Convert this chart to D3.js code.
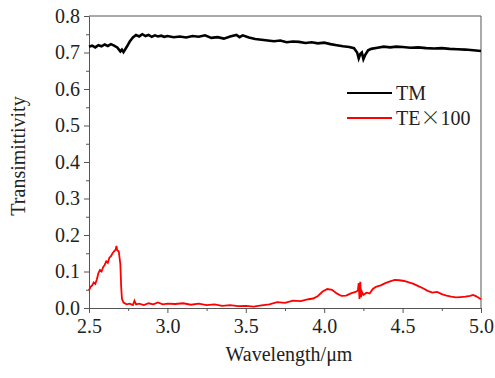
<!DOCTYPE html>
<html>
<head>
<meta charset="utf-8">
<script src="https://cdn.jsdelivr.net/npm/d3@7"></script>
<style>
  body { margin: 0; background: #fff; }
  .axis path, .axis line { stroke: #555; }
</style>
</head>
<body>
<div id="plot"></div>
<script>
// TM curve
var tmX = [2.50,2.52,2.54,2.56,2.58,2.60,2.62,2.64,2.66,2.68,2.70,2.71,2.72,2.74,2.76,2.78,2.80,2.82,2.84,2.86,2.88,2.90,2.92,2.94,2.96,2.98,3.00,3.04,3.08,3.12,3.16,3.20,3.24,3.28,3.32,3.36,3.40,3.44,3.46,3.48,3.52,3.56,3.60,3.64,3.68,3.72,3.76,3.80,3.84,3.88,3.92,3.96,4.00,4.04,4.08,4.12,4.16,4.19,4.21,4.22,4.23,4.24,4.25,4.26,4.28,4.30,4.34,4.38,4.42,4.46,4.50,4.55,4.60,4.65,4.70,4.75,4.80,4.85,4.90,4.95,5.00]
var tmY = [0.716,0.719,0.714,0.720,0.717,0.722,0.718,0.723,0.719,0.714,0.703,0.708,0.701,0.715,0.730,0.741,0.748,0.744,0.750,0.745,0.748,0.743,0.747,0.744,0.746,0.743,0.745,0.742,0.744,0.741,0.745,0.743,0.747,0.740,0.742,0.738,0.744,0.748,0.742,0.747,0.741,0.737,0.735,0.733,0.731,0.733,0.728,0.730,0.729,0.726,0.728,0.725,0.727,0.723,0.720,0.717,0.715,0.712,0.700,0.684,0.696,0.700,0.682,0.692,0.706,0.710,0.713,0.716,0.714,0.716,0.715,0.713,0.714,0.712,0.711,0.712,0.710,0.709,0.708,0.706,0.704]

// TE x100 curve
var teX = [2.50,2.51,2.52,2.53,2.54,2.55,2.56,2.57,2.58,2.59,2.60,2.61,2.62,2.63,2.64,2.65,2.66,2.67,2.675,2.68,2.69,2.70,2.705,2.71,2.72,2.74,2.76,2.78,2.79,2.80,2.82,2.85,2.88,2.91,2.94,2.97,3.00,3.05,3.10,3.15,3.20,3.25,3.30,3.35,3.40,3.45,3.50,3.55,3.60,3.65,3.70,3.75,3.80,3.85,3.90,3.93,3.96,3.99,4.02,4.05,4.08,4.11,4.14,4.17,4.20,4.215,4.22,4.225,4.23,4.235,4.24,4.25,4.27,4.29,4.31,4.33,4.36,4.39,4.42,4.45,4.48,4.51,4.54,4.57,4.60,4.63,4.66,4.69,4.72,4.75,4.78,4.81,4.84,4.87,4.90,4.93,4.95,4.97,5.00]
var teY = [0.048,0.058,0.062,0.070,0.066,0.078,0.096,0.104,0.100,0.112,0.118,0.128,0.124,0.138,0.142,0.150,0.155,0.160,0.170,0.158,0.155,0.120,0.060,0.025,0.015,0.010,0.012,0.008,0.020,0.010,0.012,0.008,0.013,0.010,0.015,0.010,0.012,0.011,0.013,0.009,0.012,0.008,0.010,0.006,0.008,0.005,0.006,0.004,0.007,0.010,0.016,0.014,0.020,0.019,0.024,0.026,0.033,0.045,0.052,0.050,0.040,0.033,0.034,0.040,0.044,0.048,0.068,0.025,0.072,0.030,0.045,0.036,0.042,0.040,0.052,0.058,0.062,0.068,0.073,0.077,0.076,0.074,0.070,0.066,0.060,0.054,0.047,0.042,0.044,0.038,0.034,0.031,0.029,0.030,0.031,0.033,0.036,0.032,0.024]

var xTicks = [2.5, 3.0, 3.5, 4.0, 4.5, 5.0]
var yTicks = [0.0, 0.1, 0.2, 0.3, 0.4, 0.5, 0.6, 0.7, 0.8]
var legendRows = [["TM"], ["TE", "\u00d7", "100"]]
var colors = ["#000000", "#ff0000"]

var serif = "'Liberation Serif', 'Times New Roman', Times, serif"

var margin = { top: 16, right: 14, bottom: 70, left: 89 }
  , width = 495 - margin.left - margin.right
  , height = 378 - margin.top - margin.bottom

var svg = d3.select("#plot")
  .append("svg")
  .attr("width", 495)
  .attr("height", 378)
  .style("font-family", serif)
  .append("g")
  .attr("transform", "translate(" + margin.left + "," + margin.top + ")")

var xScale = d3.scaleLinear().domain([2.5, 5.0]).range([0, width])
var yScale = d3.scaleLinear().domain([0, 0.8]).range([height, 0])

// minor ticks
svg.append("g")
  .attr("class", "axis")
  .attr("transform", "translate(0," + height + ")")
  .call(d3.axisBottom(xScale).tickValues(d3.range(2.75, 5, 0.5)).tickSize(3).tickFormat(""))
  .call(g => g.select(".domain").remove())
svg.append("g")
  .attr("class", "axis")
  .call(d3.axisLeft(yScale).tickValues(d3.range(0.05, 0.8, 0.1)).tickSize(3).tickFormat(""))
  .call(g => g.select(".domain").remove())

svg.append("g")
  .attr("class", "axis")
  .attr("transform", "translate(0," + height + ")")
  .call(d3.axisBottom(xScale).tickValues(xTicks).tickSize(5).tickSizeOuter(0).tickPadding(6).tickFormat(d3.format(".1f")))
  .attr("font-size", 20)
  .attr("font-family", serif)
  .call(g => g.selectAll(".tick text").attr("fill", "#222"))

svg.append("g")
  .attr("class", "axis")
  .call(d3.axisLeft(yScale).tickValues(yTicks).tickSize(5).tickSizeOuter(0).tickPadding(4).tickFormat(d3.format(".1f")))
  .attr("font-size", 20)
  .attr("font-family", serif)
  .call(g => g.selectAll(".tick text").attr("fill", "#222"))

// frame top and right
svg.append("line").attr("x1", 0).attr("x2", width).attr("y1", 0).attr("y2", 0).attr("stroke", "#555")
svg.append("line").attr("x1", width).attr("x2", width).attr("y1", 0).attr("y2", height).attr("stroke", "#555")

var line = d3.line()
  .x(d => xScale(d[0]))
  .y(d => yScale(d[1]))

svg.append("path")
  .datum(tmX.map((x, i) => [x, tmY[i]]))
  .attr("fill", "none")
  .attr("stroke", colors[0])
  .attr("stroke-width", 2.6)
  .attr("d", line)

svg.append("path")
  .datum(teX.map((x, i) => [x, teY[i]]))
  .attr("fill", "none")
  .attr("stroke", colors[1])
  .attr("stroke-width", 1.8)
  .attr("d", line)

// legend
var legend = svg.selectAll(".legend")
  .data(legendRows)
  .enter()
  .append("g")
  .attr("class", "legend")
  .attr("transform", (d, i) => "translate(258," + (77 + i * 25) + ")")
legend.append("line")
  .attr("x1", 0).attr("x2", 45)
  .attr("stroke", (d, i) => colors[i])
  .attr("stroke-width", 2)
var lt = legend.append("text")
  .attr("x", 49)
  .attr("y", 7)
  .attr("font-size", 20)
  .attr("fill", "#222")
// the times sign is the wide CJK one in the original
lt.selectAll("tspan")
  .data(d => d)
  .enter()
  .append("tspan")
  .style("font-family", d => d == "\u00d7" ? "'Noto Sans CJK SC'" : null)
  .attr("font-weight", d => d == "\u00d7" ? 300 : null)
  .text(d => d)

svg.append("text")
  .attr("x", width / 2 + 4)
  .attr("y", height + 53)
  .attr("text-anchor", "middle")
  .attr("font-size", 20)
  .attr("fill", "#222")
  .text("Wavelength/\u03bcm")

svg.append("text")
  .attr("transform", "rotate(-90)")
  .attr("x", -height / 2 + 6)
  .attr("y", -64)
  .attr("text-anchor", "middle")
  .attr("font-size", 20)
  .attr("fill", "#222")
  .text("Transimittivity")
</script>
</body>
</html>
